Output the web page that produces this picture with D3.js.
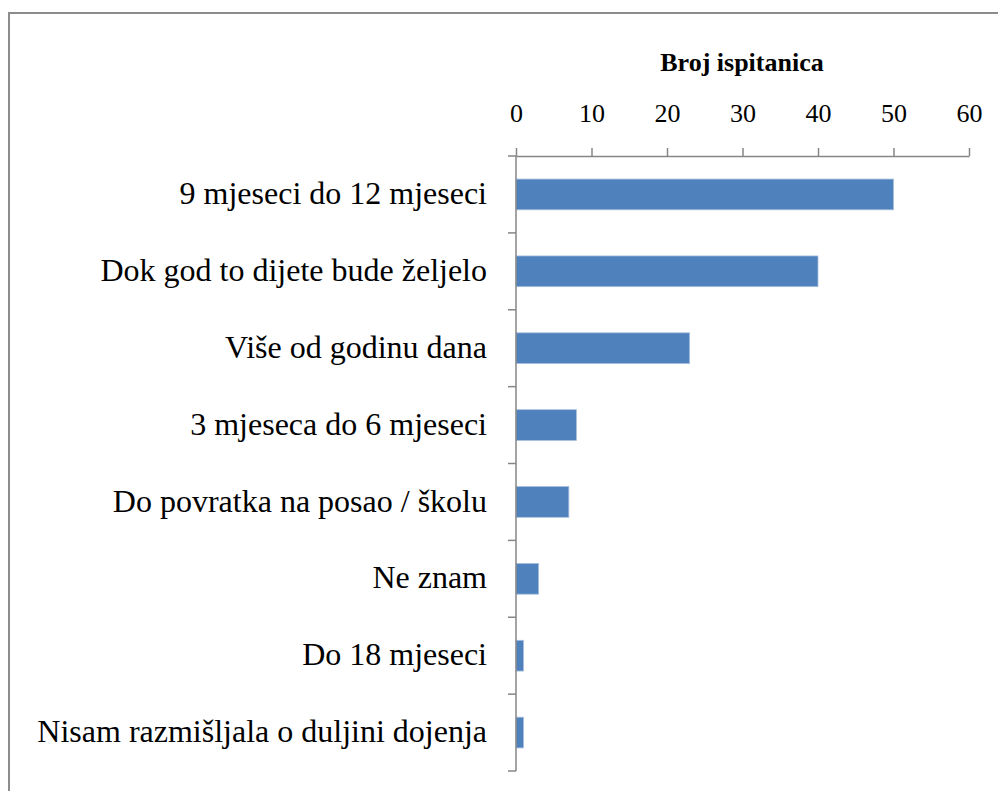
<!DOCTYPE html>
<html>
<head>
<meta charset="utf-8">
<script src="https://cdn.jsdelivr.net/npm/d3@7"></script>
<style>
  body { margin: 0; background: #fff; }
</style>
</head>
<body>
<svg id="chart" width="998" height="791"></svg>
<script>
"use strict";

// categories top to bottom, with counts
const categories = [
  "9 mjeseci do 12 mjeseci",
  "Dok god to dijete bude željelo",
  "Više od godinu dana",
  "3 mjeseca do 6 mjeseci",
  "Do povratka na posao / školu",
  "Ne znam",
  "Do 18 mjeseci",
  "Nisam razmišljala o duljini dojenja"
];
const counts = [50, 40, 23, 8, 7, 3, 1, 1];
const xTicks = [0, 10, 20, 30, 40, 50, 60];
const axisTitle = "Broj ispitanica";

const FONT = "Liberation Serif, Times New Roman, serif";

const svg = d3.select("#chart");
const M = {top: 156, left: 516, right: 29, bottom: 20};
const plotW = 969 - M.left;
const plotH = 771 - M.top;

// outer frame (cropped on right and bottom)
svg.append("rect").attr("x", 9).attr("y", 13).attr("width", 1100).attr("height", 900)
  .attr("fill", "none").attr("stroke", "#8c8c8c").attr("stroke-width", 2);

const g = svg.append("g").attr("transform", `translate(${M.left},${M.top})`);

const x = d3.scaleLinear().domain([0, 60]).range([0, plotW]);
const y = d3.scaleBand().domain(categories).range([0, plotH]).paddingInner(0.6).paddingOuter(0.3);
const band = d3.scaleBand().domain(categories).range([0, plotH]);

// bars
g.selectAll("rect.bar").data(categories).enter().append("rect")
  .attr("class", "bar")
  .attr("x", 0)
  .attr("y", d => y(d))
  .attr("width", (d, i) => x(counts[i]))
  .attr("height", y.bandwidth())
  .attr("fill", "#4f81bd")
  .attr("stroke", "#a7c0de").attr("stroke-width", 0.8);

// top axis
const xAxis = g.append("g")
  .call(d3.axisTop(x).tickValues(xTicks).tickSize(8).tickSizeOuter(0).tickPadding(26));
xAxis.attr("font-family", FONT);
xAxis.select(".domain").attr("stroke", "#868686").attr("stroke-width", 1.5);
xAxis.selectAll(".tick line").attr("stroke", "#868686").attr("stroke-width", 1.5);
xAxis.selectAll(".tick text").attr("font-size", 26).attr("font-family", FONT).attr("fill", "#000");

// left axis: ticks between categories
const yAxis = g.append("g");
yAxis.append("line").attr("x1", 0).attr("x2", 0).attr("y1", 0).attr("y2", plotH)
  .attr("stroke", "#868686").attr("stroke-width", 1.5);
yAxis.selectAll("line.tk").data(d3.range(categories.length + 1)).enter().append("line")
  .attr("class", "tk")
  .attr("x1", -8).attr("x2", 0)
  .attr("y1", i => i * band.step()).attr("y2", i => i * band.step())
  .attr("stroke", "#868686").attr("stroke-width", 1.5);
yAxis.selectAll("text").data(categories).enter().append("text")
  .attr("x", -29)
  .attr("y", d => band(d) + band.bandwidth() / 2)
  .attr("dy", "0.3em")
  .attr("text-anchor", "end")
  .attr("font-family", FONT)
  .attr("font-size", 32)
  .text(d => d);

// axis title
svg.append("text").attr("x", 742).attr("y", 71).attr("text-anchor", "middle")
  .attr("font-family", FONT)
  .attr("font-size", 26).attr("font-weight", 700).text(axisTitle);
</script>
</body>
</html>
